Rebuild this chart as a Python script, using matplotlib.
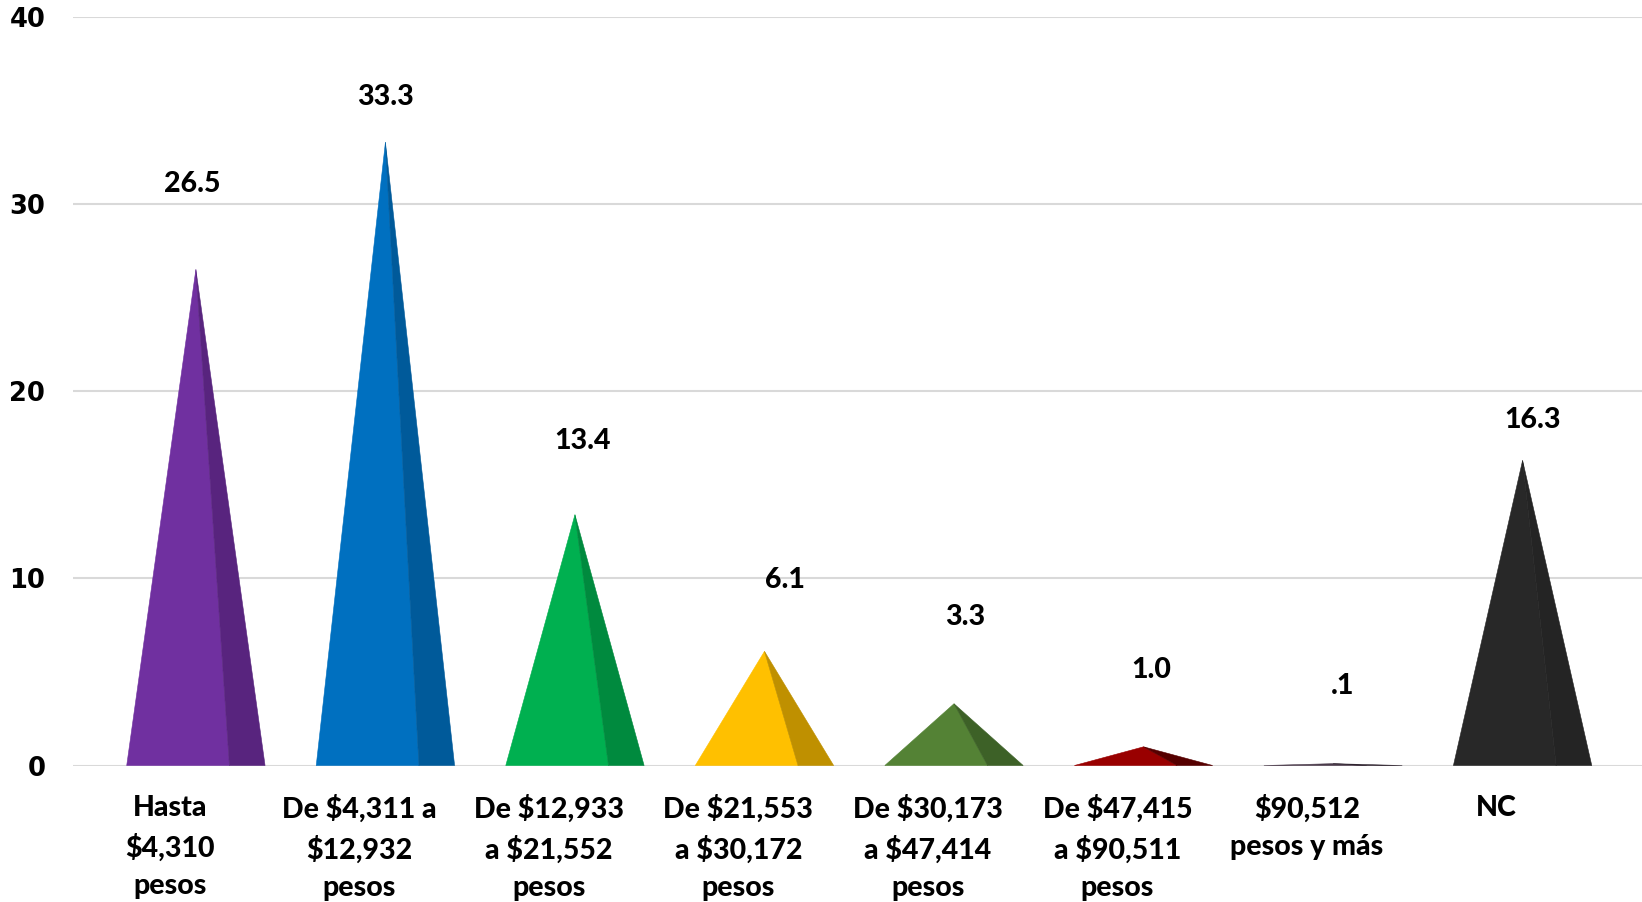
import numpy as np
import matplotlib
matplotlib.use("Agg")
import matplotlib.pyplot as plt

# Ingreso mensual del hogar (porcentaje)
categorias = [
    "Hasta\n$4,310\npesos",
    "De $4,311 a\n$12,932\npesos",
    "De $12,933\na $21,552\npesos",
    "De $21,553\na $30,172\npesos",
    "De $30,173\na $47,414\npesos",
    "De $47,415\na $90,511\npesos",
    "$90,512\npesos y más",
    "NC",
]
valores = [26.5, 33.3, 13.4, 6.1, 3.3, 1.0, 0.1, 16.3]
etiquetas = ["26.5", "33.3", "13.4", "6.1", "3.3", "1.0", ".1", "16.3"]

# colores de cara frontal y cara lateral de cada pirámide
color_frente = ["#7030A0", "#0070C0", "#00B050", "#FFC000",
                "#548235", "#990000", "#4B3B4B", "#282828"]
color_lado = ["#58247E", "#005A9A", "#008A3E", "#BF9000",
              "#3D6127", "#560000", "#2E232E", "#242424"]

# desplazamiento de las etiquetas de valor respecto a la punta
etiqueta_dy = [4.55, 2.4, 3.94, 3.8, 4.64, 4.09, 4.15, 2.16]
etiqueta_dx = [-0.02, 0.0, 0.04, 0.11, 0.06, 0.04, 0.05, 0.05]

fuente = ["Lato", "DejaVu Sans"]

fig = plt.figure(figsize=(16.42, 9.02), dpi=100)
ax = fig.add_axes([0.0445, 0.1513, 0.9555, 0.8301])

media = 0.365
corte = 0.177
x = np.arange(len(valores))
for i, v in enumerate(valores):
    ax.fill([x[i] - media, x[i], x[i] + corte], [0, v, 0],
            facecolor=color_frente[i], edgecolor=color_frente[i],
            lw=0.4, zorder=3)
    ax.fill([x[i] + corte, x[i], x[i] + media], [0, v, 0],
            facecolor=color_lado[i], edgecolor=color_lado[i],
            lw=0.4, zorder=3)
    ax.text(x[i] + etiqueta_dx[i], v + etiqueta_dy[i], etiquetas[i],
            ha="center", va="center", fontsize=20.5, fontweight="black",
            family=fuente, zorder=4)

ax.set_xlim(-0.648, 7.63)
ax.set_ylim(0, 40)
ax.set_yticks([0, 10, 20, 30, 40])
ax.yaxis.grid(True, color="#d9d9d9", lw=1.5, zorder=0)
ax.set_axisbelow(True)
for s in ax.spines.values():
    s.set_visible(False)
ax.tick_params(axis="y", length=0, pad=20)
for t in ax.get_yticklabels():
    t.set_fontsize(18.5)
    t.set_fontweight("bold")
    t.set_family("DejaVu Sans")

ax.set_xticks(x - 0.138)
ax.set_xticklabels(categorias, fontsize=20.5, fontweight="black",
                   family=fuente, linespacing=1.55)
ax.tick_params(axis="x", length=0, pad=21)

fig.savefig("out.png", dpi=100)
